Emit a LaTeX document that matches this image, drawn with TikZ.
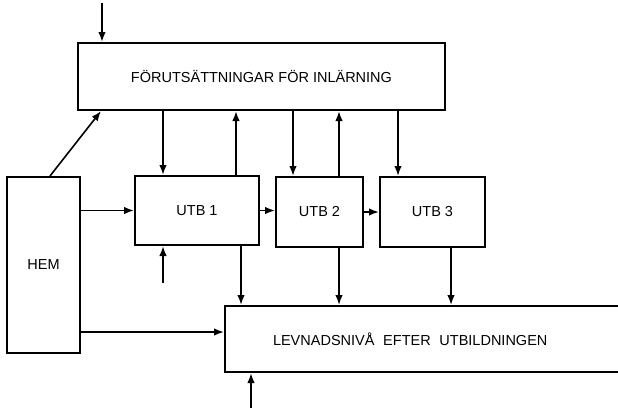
\documentclass[tikz,border=0pt]{standalone}
\usepackage{fontspec}
\setmainfont{Liberation Sans}
\usetikzlibrary{arrows.meta}

\begin{document}
\begin{tikzpicture}[x=1pt,y=-1pt]
\tikzset{
  block/.style={draw,line width=2pt,inner sep=0pt,font=\fontsize{14.5}{17}\selectfont},
  flow/.style={-{Latex[length=10pt,width=7.5pt]},line width=1.6pt}
}
\clip (0,0) rectangle (618,410);
\node[block,minimum width=367pt,minimum height=67pt] (n_forut) at (261.5,76.5) {FÖRUTSÄTTNINGAR FÖR INLÄRNING};
\node[block,minimum width=73pt,minimum height=176pt] (n_hem) at (43.5,265) {HEM};
\node[block,minimum width=124pt,minimum height=69pt] (n_utb1) at (197,210.5) {UTB 1};
\node[block,minimum width=87pt,minimum height=70pt] (n_utb2) at (319.5,212) {UTB 2};
\node[block,minimum width=105pt,minimum height=70pt] (n_utb3) at (432.5,212) {UTB 3};
\node[block,anchor=north west,minimum height=66pt,text width=330pt,inner xsep=48pt,align=left] (n_levnad) at (224,305) {LEVNADSNIVÅ\hspace{0.6em}EFTER\hspace{0.6em}UTBILDNINGEN};
% free ends and columns of the vertical connectors
\coordinate (c_in0) at (102,3);
\coordinate (c_in1) at (163,283);
\coordinate (c_in2) at (251,408);
\coordinate (c_hem) at (50,0);
\coordinate (c_diag) at (101,0);
\coordinate (c_a) at (163,0);
\coordinate (c_b) at (236,0);
\coordinate (c_c) at (241,0);
\coordinate (c_d) at (293,0);
\coordinate (c_e) at (339,0);
\coordinate (c_f) at (398,0);
\coordinate (c_g) at (451,0);
\coordinate (c_low) at (0,332);
\draw[flow] (c_in0) -- (n_forut.north -| c_in0);
\draw[flow] (n_hem.north -| c_hem) -- (n_forut.south -| c_diag);
\draw[flow] (n_forut.south -| c_a) -- (n_utb1.north -| c_a);
\draw[flow] (n_utb1.north -| c_b) -- (n_forut.south -| c_b);
\draw[flow] (n_forut.south -| c_d) -- (n_utb2.north -| c_d);
\draw[flow] (n_utb2.north -| c_e) -- (n_forut.south -| c_e);
\draw[flow] (n_forut.south -| c_f) -- (n_utb3.north -| c_f);
\draw[flow] (n_hem.east |- n_utb1.west) -- (n_utb1.west);
\draw[flow] (n_utb1.east) -- (n_utb1.east -| n_utb2.west);
\draw[flow] (n_utb2.east) -- (n_utb3.west);
\draw[flow] (c_in1) -- (n_utb1.south -| c_in1);
\draw[flow] (n_utb1.south -| c_c) -- (n_levnad.north -| c_c);
\draw[flow] (n_utb2.south -| c_e) -- (n_levnad.north -| c_e);
\draw[flow] (n_utb3.south -| c_g) -- (n_levnad.north -| c_g);
\draw[flow] (n_hem.east |- c_low) -- (n_levnad.west |- c_low);
\draw[flow] (c_in2) -- (n_levnad.south -| c_in2);
\end{tikzpicture}
\end{document}
